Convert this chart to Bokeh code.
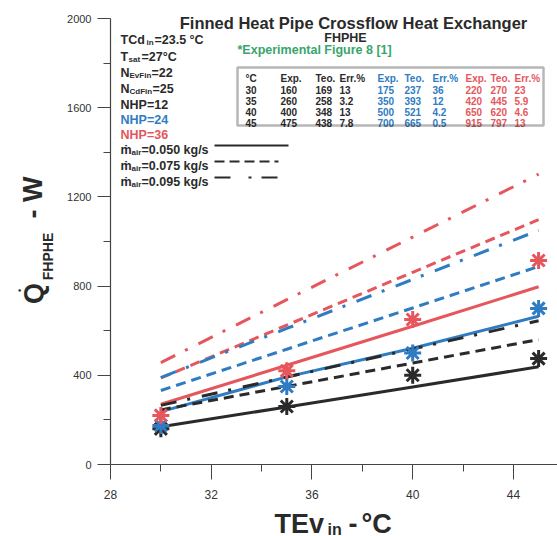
import numpy as np
from bokeh.plotting import figure
from bokeh.models import Label, ColumnDataSource, FixedTicker, BoxAnnotation
from bokeh.embed import file_html
from bokeh.resources import INLINE
from bokeh.core.properties import value

# ---------------- data ----------------
temps = [30, 35, 40, 45]
x_ticks = [28, 32, 36, 40, 44]
x_minor = [30, 34, 38, 42]
y_ticks = [0, 400, 800, 1200, 1600, 2000]
y_minor = [200, 600, 1000, 1400, 1800]

# NHP=12 / 24 / 36 : experimental, theoretical (0.050 kg/s), error %
exp_12 = [160, 260, 400, 475]
teo_12 = [169, 258, 348, 438]
err_12 = ["13", "3.2", "13", "7.8"]
exp_24 = [175, 350, 500, 700]
teo_24 = [237, 393, 521, 665]
err_24 = ["36", "12", "4.2", "0.5"]
exp_36 = [220, 420, 650, 915]
teo_36 = [270, 445, 620, 797]
err_36 = ["23", "5.9", "4.6", "13"]

# theoretical, m_air = 0.075 kg/s
q075_12 = [245, 350, 455, 560]
q075_24 = [332, 517, 702, 888]
q075_36 = [388, 625, 862, 1098]
# theoretical, m_air = 0.095 kg/s
q095_12 = [265, 392, 518, 645]
q095_24 = [390, 610, 830, 1050]
q095_36 = [457, 739, 1020, 1302]

table_header = ["°C", "Exp.", "Teo.", "Err.%", "Exp.", "Teo.", "Err.%", "Exp.", "Teo.", "Err.%"]

# ---------------- style / geometry ----------------
BLACK = "#2a2a2a"
BLUE = "#2f7cc2"
RED = "#e5575c"
GREEN = "#39a56c"
FONT = "Liberation Sans"
W, H = 557, 536
X0, X1 = 28, 45.75          # axis extent
Y0, Y1 = 0, 2000
AL, AR, AT, AB = 110, 557, 18, 464   # pixel box of the axes

def dx(px):
    return X0 + (px - AL) * (X1 - X0) / (AR - AL)

def dy(py):
    return Y0 + (AB - py) * (Y1 - Y0) / (AB - AT)

p = figure(width=W, height=H, x_range=(dx(0), dx(W)), y_range=(dy(H), dy(0)),
           output_backend="svg", toolbar_location=None,
           min_border_left=0, min_border_right=0, min_border_top=0, min_border_bottom=0)
p.outline_line_color = None
p.xgrid.visible = False
p.ygrid.visible = False
p.background_fill_color = "white"
p.border_fill_color = "white"

for ax in (p.xaxis, p.yaxis):
    ax.axis_line_color = "#444"
    ax.axis_line_width = 1.2
    ax.major_tick_line_color = "#444"
    ax.minor_tick_line_color = "#444"
    ax.major_tick_in = 0
    ax.minor_tick_in = 0
    ax.minor_tick_out = 7
    ax.major_label_text_font = FONT
    ax.major_label_text_color = "#333"

p.xaxis.fixed_location = Y0
p.xaxis.bounds = (X0, X1)
p.xaxis.ticker = FixedTicker(ticks=x_ticks, minor_ticks=x_minor)
p.xaxis.major_label_overrides = {t: str(t) for t in x_ticks}
p.xaxis.major_tick_out = 15
p.xaxis.major_label_standoff = 10
p.xaxis.major_label_text_font_size = "12px"

p.yaxis.fixed_location = X0
p.yaxis.bounds = (Y0, Y1)
p.yaxis.ticker = FixedTicker(ticks=y_ticks, minor_ticks=y_minor)
p.yaxis.major_label_overrides = {t: str(t) for t in y_ticks}
p.yaxis.major_tick_out = 13
p.yaxis.major_label_standoff = 6
p.yaxis.major_label_text_font_size = "11px"

# ---------------- lines ----------------
DASH = "10 6"
DASHDOT = "16 11 3 12"
series = [
    (teo_12, BLACK, "solid"), (teo_24, BLUE, "solid"), (teo_36, RED, "solid"),
    (q075_12, BLACK, DASH), (q075_24, BLUE, DASH), (q075_36, RED, DASH),
    (q095_12, BLACK, DASHDOT), (q095_24, BLUE, DASHDOT), (q095_36, RED, DASHDOT),
]
for vals, col, dash in series:
    p.line(temps, vals, line_color=col, line_width=3, line_dash=dash)

for vals, col in [(exp_12, BLACK), (exp_24, BLUE), (exp_36, RED)]:
    p.scatter(temps, vals, marker="asterisk", size=17, line_width=3, line_color=col)

# ---------------- texts ----------------
def lab(text, px, py, size, color=BLACK, align="left", baseline="alphabetic",
        angle=0.0, style="bold"):
    p.add_layout(Label(x=px, y=H - py, x_units="screen", y_units="screen",
                       text=text, text_font=FONT,
                       text_font_size=f"{size}px", text_font_style=style,
                       text_color=color, text_align=align, text_baseline=baseline,
                       angle=angle, angle_units="rad"))

def gtxt(text, px, py, size, align="left", baseline="alphabetic", angle=0.0):
    p.text(x=[dx(px)], y=[dy(py)], text=[text], text_font=value(FONT),
           text_font_size=f"{size}px", text_font_style="bold", text_color=BLACK,
           text_align=align, text_baseline=baseline, angle=angle)

lab("Finned Heat Pipe Crossflow Heat Exchanger", 353, 22, 16.5, align="center")
lab("FHPHE", 345, 37, 12.5, align="center")
lab("*Experimental Figure 8 [1]", 237, 49, 12.5, color=GREEN)

S, SS = 12.5, 8
lab("TCd", 120, 39, S); lab("in", 146, 42, SS); lab("=23.5 °C", 154, 39, S)
lab("T", 120, 56, S); lab("sat", 128, 59, SS); lab("=27°C", 141, 56, S)
lab("N", 120, 72, S); lab("EvFin", 129, 75, SS); lab("=22", 151, 72, S)
lab("N", 120, 88, S); lab("CdFin", 129, 91, SS); lab("=25", 152, 88, S)
lab("NHP=12", 120, 104, S)
lab("NHP=24", 120, 119, S, color=BLUE)
lab("NHP=36", 120, 134, S, color=RED)
for by, txt in [(149, "=0.050 kg/s"), (165, "=0.075 kg/s"), (181, "=0.095 kg/s")]:
    lab("ṁ", 120, by, S); lab("air", 131, by + 3, SS); lab(txt, 141, by, S)

# legend line samples
for (x0, x1, yy, dash) in [(214, 288, 145, "solid"), (214, 278, 161, "10 5"),
                           (214, 278, 177, "16 18 3 10")]:
    p.line([dx(x0), dx(x1)], [dy(yy), dy(yy)], line_color=BLACK, line_width=2, line_dash=dash)

# table
p.add_layout(BoxAnnotation(left=dx(237), right=dx(543), top=dy(67), bottom=dy(125),
                           fill_color=None, line_color="#111", line_width=2.5))
col_x = [245, 280, 315, 339, 377, 404, 432, 465, 490, 514]
col_c = [BLACK] * 4 + [BLUE] * 3 + [RED] * 3
row_y = [78, 89, 100, 111, 122]
rows = [table_header]
for i, t in enumerate(temps):
    rows.append([str(t), str(exp_12[i]), str(teo_12[i]), err_12[i],
                 str(exp_24[i]), str(teo_24[i]), err_24[i],
                 str(exp_36[i]), str(teo_36[i]), err_36[i]])
tx, ty, tt, tc = [], [], [], []
for r, row in enumerate(rows):
    for c, txt in enumerate(row):
        tx.append(dx(col_x[c])); ty.append(dy(row_y[r])); tt.append(txt); tc.append(col_c[c])
src = ColumnDataSource(dict(x=tx, y=ty, text=tt, color=tc))
p.text(x="x", y="y", text="text", text_color="color", source=src,
       text_font=value(FONT), text_font_style="bold", text_font_size="10px",
       text_align="left", text_baseline="alphabetic")

# y axis title (rotated)
R = np.pi / 2
gtxt("Q", 33, 293, 27, align="center", baseline="middle", angle=R)
gtxt("•", 19, 290, 9, align="center", baseline="middle", angle=R)
gtxt("FHPHE", 47, 256, 14, align="center", baseline="middle", angle=R)
gtxt("- W", 32, 197, 27, align="center", baseline="middle", angle=R)

# x axis title
gtxt("TEv", 274, 523, 27)
gtxt("in", 327, 529, 16)
gtxt("-", 348, 523, 27)
gtxt("°C", 361, 523, 27)

open("out.html", "w").write(file_html(p, INLINE))
